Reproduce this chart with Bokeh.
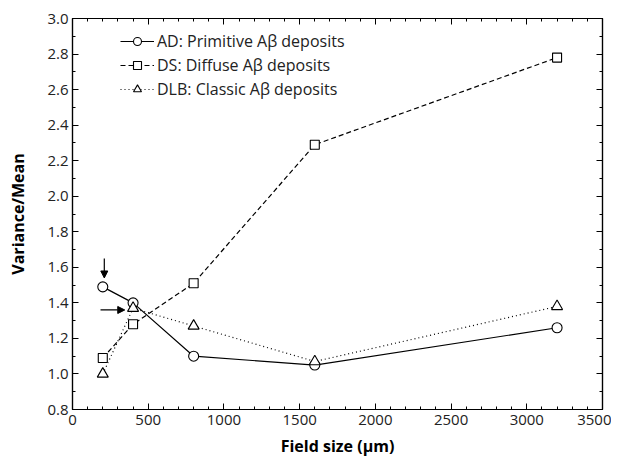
from bokeh.plotting import figure
from bokeh.models import (LinearAxis, FixedTicker, Range1d, Legend, LegendItem,
                          Arrow, NormalHead, CustomJSTickFormatter)
from bokeh.embed import file_html
from bokeh.resources import INLINE

field_size = [200, 400, 800, 1600, 3200]
ad_values = [1.49, 1.40, 1.10, 1.05, 1.26]
ds_values = [1.09, 1.28, 1.51, 2.29, 2.78]
dlb_values = [1.00, 1.37, 1.27, 1.07, 1.38]

series_labels = ["AD: Primitive A\u03b2 deposits",
                 "DS: Diffuse A\u03b2 deposits",
                 "DLB: Classic A\u03b2 deposits"]

x_ticks = [0, 500, 1000, 1500, 2000, 2500, 3000, 3500]
x_minor = list(range(0, 3501, 100))
y_ticks = [0.8, 1.0, 1.2, 1.4, 1.6, 1.8, 2.0, 2.2, 2.4, 2.6, 2.8, 3.0]
y_minor = [round(0.8 + 0.1 * i, 1) for i in range(23)]

# arrows (x_start, y_start, x_end, y_end)
arrow_down = (210, 1.65, 210, 1.54)
arrow_right = (185, 1.36, 345, 1.36)

FONT = "Open Sans"

p = figure(width=611, height=459, output_backend="svg", toolbar_location=None,
           x_range=Range1d(0, 3500), y_range=Range1d(0.8, 3.0),
           min_border_left=72, min_border_right=9, min_border_top=18,
           min_border_bottom=30)
p.grid.visible = False
p.outline_line_color = "black"
p.outline_line_width = 1.2
p.background_fill_color = "white"
p.border_fill_color = "white"

xt = FixedTicker(ticks=x_ticks, minor_ticks=x_minor)
yt = FixedTicker(ticks=y_ticks, minor_ticks=y_minor)
yfmt = CustomJSTickFormatter(code="return tick.toFixed(1);")
blank = CustomJSTickFormatter(code="return '';")

def style_axis(ax):
    ax.axis_line_color = "black"
    ax.axis_line_width = 1.2
    ax.major_tick_in = 6
    ax.major_tick_out = 0
    ax.minor_tick_in = 3
    ax.minor_tick_out = 0
    ax.major_tick_line_color = "black"
    ax.minor_tick_line_color = "black"
    ax.major_label_text_font = FONT
    ax.major_label_text_font_size = "15px"
    ax.major_label_text_color = "#222222"
    ax.axis_label_text_font = FONT
    ax.axis_label_text_font_size = "16px"
    ax.axis_label_text_font_style = "bold"
    ax.axis_label_text_color = "black"

p.xaxis.ticker = xt
p.yaxis.ticker = yt
p.yaxis.formatter = yfmt
style_axis(p.xaxis[0])
style_axis(p.yaxis[0])
p.xaxis.axis_label = "Field size (\u03bcm)"
p.yaxis.axis_label = "Variance/Mean"
p.xaxis.major_label_standoff = 5
p.yaxis.major_label_standoff = 4
p.xaxis.axis_label_standoff = 7
p.yaxis.axis_label_standoff = 15

top = LinearAxis(ticker=xt, formatter=blank)
style_axis(top)
top.major_label_standoff = 0
p.add_layout(top, "above")
right = LinearAxis(ticker=yt, formatter=blank)
style_axis(right)
right.major_label_standoff = 0
p.add_layout(right, "right")

lw = 1.2
r1l = p.line(field_size, ad_values, line_color="black", line_width=lw)
r1m = p.scatter(field_size, ad_values, marker="circle", size=10,
                fill_color="white", line_color="black", line_width=1.1)
r2l = p.line(field_size, ds_values, line_color="black", line_width=lw,
             line_dash="5 3")
r2m = p.scatter(field_size, ds_values, marker="square", size=9,
                fill_color="white", line_color="black", line_width=1.1)
r3l = p.line(field_size, dlb_values, line_color="black", line_width=lw,
             line_dash="1 3")
r3m = p.scatter(field_size, dlb_values, marker="triangle", size=11,
                fill_color="white", line_color="black", line_width=1.1)

for a in (arrow_down, arrow_right):
    p.add_layout(Arrow(end=NormalHead(size=7, fill_color="black",
                                      line_color="black"),
                       x_start=a[0], y_start=a[1], x_end=a[2], y_end=a[3],
                       line_color="black", line_width=1.2))

legend = Legend(items=[LegendItem(label=series_labels[0], renderers=[r1l, r1m]),
                       LegendItem(label=series_labels[1], renderers=[r2l, r2m]),
                       LegendItem(label=series_labels[2], renderers=[r3l, r3m])],
                location=(48, 309), border_line_color=None,
                background_fill_alpha=0, glyph_width=34, glyph_height=20,
                label_text_font=FONT, label_text_font_size="16px",
                label_standoff=3, spacing=2, margin=0, padding=0,
                label_text_color="#222222")
p.add_layout(legend, "center")

open("out.html", "w").write(file_html(p, INLINE))
